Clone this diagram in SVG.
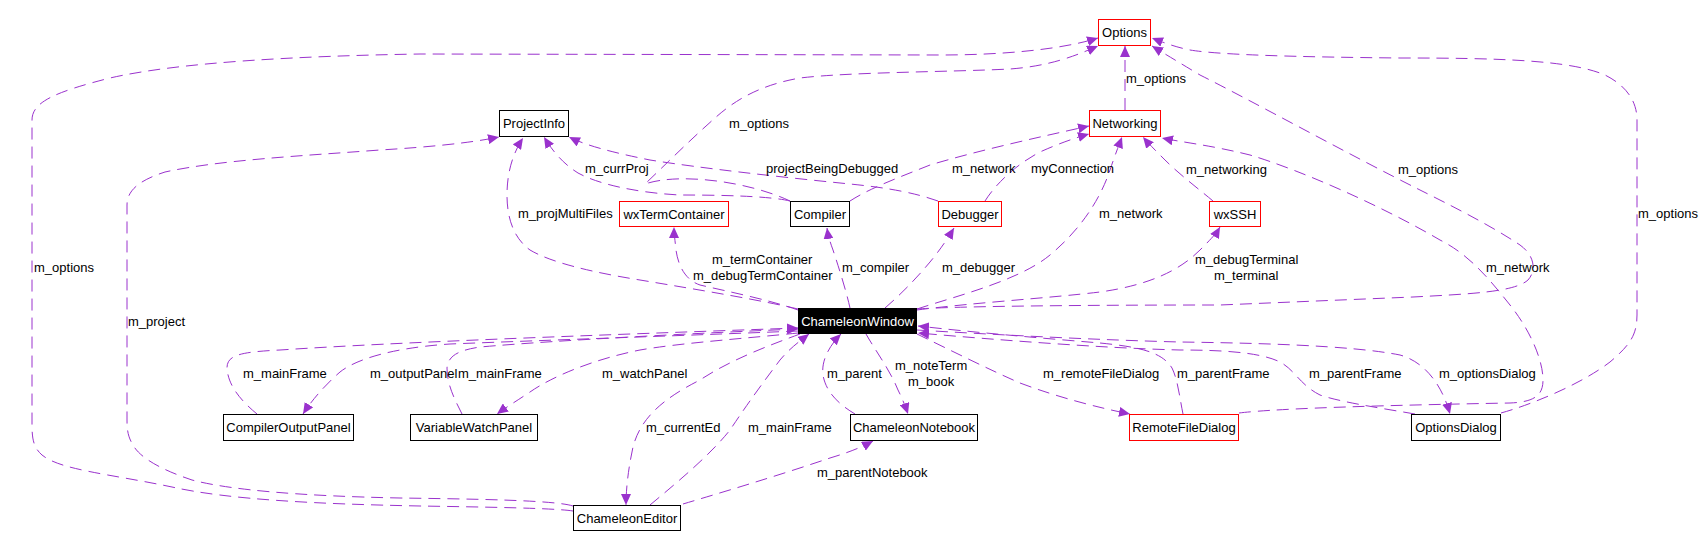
<svg xmlns="http://www.w3.org/2000/svg" width="1701" height="549" viewBox="0 0 1701 549">
<style>
.nb{fill:#fff;stroke:#000;stroke-width:1}
.nr{fill:#fff;stroke:#f00;stroke-width:1}
.nk{fill:#000;stroke:#000;stroke-width:1}
.e{fill:none;stroke:#9a32cd;stroke-width:1;stroke-dasharray:12,7;marker-end:url(#arr)}
.en{fill:none;stroke:#9a32cd;stroke-width:1;stroke-dasharray:12,7}
text{font-family:"Liberation Sans",Arial,Helvetica,sans-serif;font-size:13px;fill:#000}
.c{text-anchor:middle}
.w{fill:#fff}
</style>
<defs>
<marker id="arr" viewBox="0 0 11 10" refX="11" refY="5" markerWidth="11" markerHeight="10" markerUnits="userSpaceOnUse" orient="auto">
<path d="M0,0 L11,5 L0,10 z" fill="#9a32cd"/>
</marker>
</defs>
<rect width="1701" height="549" fill="#fff"/>
<g id="connectors">
<!-- ChameleonEditor -> Options (m_options, far left) -->
<path class="e" d="M573,511 C555,508 480,507 420,506 C320,504 230,500 172,487 C110,474 60,470 42,455 C34,448 32,440 32,425 L32,120 C32,102 55,92 110,78 C180,62 300,56 420,54 L940,55 C1000,55 1060,50 1098,38"/>
<!-- ChameleonEditor -> ProjectInfo (m_project) -->
<path class="e" d="M573,506 C555,500 470,499 400,498 C300,496 230,490 192,480 C162,470 140,458 133,445 C128,437 127,430 127,420 L127,205 C127,190 140,180 165,172 C220,160 300,156 380,150 C430,147 470,143 499,137"/>
<!-- Compiler -> Options (m_options) -->
<path class="e" d="M790,201 C750,182 680,172 645,184 C665,165 690,140 715,118 C735,100 760,85 800,78 C850,72 950,72 1010,69 C1050,66 1075,56 1098,46"/>
<!-- Networking -> Options -->
<path class="e" d="M1125,110 L1125,46"/>
<!-- ChameleonWindow -> Options (m_options diag) -->
<path class="e" d="M917,309 C960,306 1100,305 1220,305 L1413,297 C1470,294 1515,292 1528,280 C1537,270 1534,255 1520,245 C1490,225 1450,205 1420,190 C1350,155 1250,100 1200,75 C1180,63 1165,54 1152,46"/>
<!-- OptionsDialog -> Options (m_options far right) -->
<path class="e" d="M1501,413 C1530,405 1580,385 1610,362 C1630,345 1637,335 1637,315 L1637,120 C1637,100 1625,85 1605,75 C1570,60 1500,58 1400,58 C1300,57 1220,55 1190,50 C1175,47 1162,42 1152,38"/>
<!-- RemoteFileDialog -> Networking (m_network) -->
<path class="e" d="M1239,413 C1280,408 1400,405 1510,403 C1535,402 1543,395 1543,380 C1543,360 1530,330 1510,305 C1490,280 1470,255 1440,240 C1380,205 1300,170 1250,155 C1210,145 1180,142 1162,138"/>
<!-- Compiler -> Networking -->
<path class="e" d="M850,201 C870,188 900,177 930,165 C980,150 1040,137 1089,126"/>
<!-- Debugger -> Networking -->
<path class="e" d="M985,201 C995,185 1015,165 1040,152 C1060,143 1075,138 1089,134"/>
<!-- ChameleonWindow -> Networking -->
<path class="e" d="M917,309 C960,295 1020,280 1050,255 C1080,230 1100,200 1110,170 C1115,155 1119,145 1122,137"/>
<!-- wxSSH -> Networking -->
<path class="e" d="M1213,201 C1200,190 1180,175 1165,160 C1155,150 1148,143 1143,137"/>
<!-- ChameleonWindow -> ProjectInfo (m_projMultiFiles) -->
<path class="e" d="M798,309 C760,300 700,290 640,280 C590,272 550,262 530,250 C512,237 507,215 507,195 C507,172 513,153 523,138"/>
<!-- Compiler -> ProjectInfo (m_currProj) -->
<path class="e" d="M790,201 C770,196 720,195 680,195 C640,193 600,185 578,173 C562,163 552,150 544,137"/>
<!-- Debugger -> ProjectInfo (projectBeingDebugged) -->
<path class="e" d="M938,201 C915,193 890,188 850,184 C780,177 700,168 650,160 C610,152 585,145 569,137"/>
<!-- ChameleonWindow -> wxTermContainer -->
<path class="e" d="M798,310 C770,300 730,292 700,285 C685,280 678,265 676,250 C675,240 674,234 674,227"/>
<!-- ChameleonWindow -> Compiler -->
<path class="e" d="M850,308 C846,290 838,265 833,250 C830,242 828,235 827,228"/>
<!-- ChameleonWindow -> Debugger -->
<path class="e" d="M885,308 C900,295 915,280 930,262 C940,250 948,238 954,228"/>
<!-- ChameleonWindow -> wxSSH -->
<path class="e" d="M917,310 C970,303 1050,298 1100,292 C1150,285 1180,270 1200,250 C1210,240 1216,234 1220,227"/>
<!-- CompilerOutputPanel -> ChameleonWindow (m_mainFrame) -->
<path class="e" d="M257,414 C240,400 228,385 227,368 C227,355 240,352 280,350 C400,342 600,335 798,328"/>
<!-- ChameleonWindow -> CompilerOutputPanel (m_outputPanel) -->
<path class="e" d="M798,331 C700,335 550,340 450,344 C390,348 355,360 340,372 C325,385 312,400 303,414"/>
<!-- VariableWatchPanel -> ChameleonWindow (m_mainFrame) -->
<path class="e" d="M462,414 C455,400 447,385 447,368 C448,355 460,350 480,347 C560,340 700,333 798,329"/>
<!-- ChameleonWindow -> VariableWatchPanel (m_watchPanel) -->
<path class="e" d="M798,333 C750,338 680,343 640,350 C590,360 550,378 530,392 C515,402 505,408 497,414"/>
<!-- ChameleonWindow -> ChameleonEditor (m_currentEd) -->
<path class="e" d="M800,334 C770,345 730,360 700,380 C660,400 640,420 633,447 C628,470 626,490 626,505"/>
<!-- ChameleonEditor -> ChameleonWindow (m_mainFrame) -->
<path class="e" d="M650,505 C680,480 710,455 730,430 C750,400 765,380 780,360 C790,348 800,341 809,334"/>
<!-- ChameleonNotebook -> ChameleonWindow (m_parent) -->
<path class="e" d="M855,414 C840,405 826,393 823,375 C821,360 830,345 841,334"/>
<!-- ChameleonWindow -> ChameleonNotebook (m_noteTerm, m_book) -->
<path class="e" d="M866,334 C875,350 890,370 898,390 C903,400 906,408 908,414"/>
<!-- ChameleonEditor -> ChameleonNotebook (m_parentNotebook) -->
<path class="e" d="M683,504 C720,493 780,475 830,458 C850,452 862,447 873,441"/>
<!-- ChameleonWindow -> RemoteFileDialog -->
<path class="e" d="M917,334 C950,350 990,370 1020,383 C1060,398 1100,408 1130,414"/>
<!-- RemoteFileDialog -> ChameleonWindow (m_parentFrame) -->
<path class="e" d="M1183,414 C1180,400 1178,380 1172,368 C1162,352 1140,347 1100,343 C1040,338 970,332 918,326"/>
<!-- ChameleonWindow -> OptionsDialog (m_optionsDialog) -->
<path class="e" d="M917,330 C1000,335 1100,340 1180,342 C1250,343 1350,345 1400,355 C1425,362 1442,385 1450,414"/>
<!-- OptionsDialog -> ChameleonWindow (m_parentFrame) -->
<path class="e" d="M1415,414 C1380,408 1340,402 1320,395 C1300,385 1295,370 1280,362 C1260,352 1220,350 1180,350 C1100,348 1000,340 918,333"/>
</g>
<g id="edge-labels">
<text x="34" y="272">m_options</text>
<text x="128" y="326">m_project</text>
<text x="518" y="218">m_projMultiFiles</text>
<text x="585" y="173">m_currProj</text>
<text x="729" y="128">m_options</text>
<text x="766" y="173">projectBeingDebugged</text>
<text x="952" y="173">m_network</text>
<text x="1031" y="173">myConnection</text>
<text x="1126" y="83">m_options</text>
<text x="1186" y="174">m_networking</text>
<text x="1398" y="174">m_options</text>
<text x="1638" y="218">m_options</text>
<text x="1099" y="218">m_network</text>
<text x="712" y="264">m_termContainer</text>
<text x="693" y="280">m_debugTermContainer</text>
<text x="842" y="272">m_compiler</text>
<text x="942" y="272">m_debugger</text>
<text x="1195" y="264">m_debugTerminal</text>
<text x="1214" y="280">m_terminal</text>
<text x="1486" y="272">m_network</text>
<text x="243" y="378">m_mainFrame</text>
<text x="370" y="378">m_outputPanel</text>
<text x="458" y="378">m_mainFrame</text>
<text x="602" y="378">m_watchPanel</text>
<text x="827" y="378">m_parent</text>
<text x="895" y="370">m_noteTerm</text>
<text x="908" y="386">m_book</text>
<text x="1043" y="378">m_remoteFileDialog</text>
<text x="1177" y="378">m_parentFrame</text>
<text x="1309" y="378">m_parentFrame</text>
<text x="1439" y="378">m_optionsDialog</text>
<text x="646" y="432">m_currentEd</text>
<text x="748" y="432">m_mainFrame</text>
<text x="817" y="477">m_parentNotebook</text>
</g>
<g id="Options"><rect class="nr" x="1098.5" y="19.5" width="52" height="26"/><text class="c" x="1124.5" y="37">Options</text></g>
<g id="ProjectInfo"><rect class="nb" x="499.5" y="110.5" width="69" height="26"/><text class="c" x="534" y="128">ProjectInfo</text></g>
<g id="Networking"><rect class="nr" x="1089.5" y="110.5" width="71" height="26"/><text class="c" x="1125" y="128">Networking</text></g>
<g id="wxTermContainer"><rect class="nr" x="619.5" y="201.5" width="109" height="25"/><text class="c" x="674" y="219">wxTermContainer</text></g>
<g id="Compiler"><rect class="nb" x="790.5" y="201.5" width="59" height="25"/><text class="c" x="820" y="219">Compiler</text></g>
<g id="Debugger"><rect class="nr" x="938.5" y="201.5" width="63" height="25"/><text class="c" x="970" y="219">Debugger</text></g>
<g id="wxSSH"><rect class="nr" x="1209.5" y="201.5" width="51" height="25"/><text class="c" x="1235" y="219">wxSSH</text></g>
<g id="ChameleonWindow"><rect class="nk" x="798.5" y="308.5" width="118" height="25"/><text class="c w" x="857.5" y="325.5">ChameleonWindow</text></g>
<g id="CompilerOutputPanel"><rect class="nb" x="223.5" y="414.5" width="130" height="26"/><text class="c" x="288.5" y="432">CompilerOutputPanel</text></g>
<g id="VariableWatchPanel"><rect class="nb" x="410.5" y="414.5" width="127" height="26"/><text class="c" x="474" y="432">VariableWatchPanel</text></g>
<g id="ChameleonNotebook"><rect class="nb" x="850.5" y="414.5" width="127" height="26"/><text class="c" x="914" y="432">ChameleonNotebook</text></g>
<g id="RemoteFileDialog"><rect class="nr" x="1129.5" y="414.5" width="109" height="26"/><text class="c" x="1184" y="432">RemoteFileDialog</text></g>
<g id="OptionsDialog"><rect class="nb" x="1411.5" y="414.5" width="89" height="26"/><text class="c" x="1456" y="432">OptionsDialog</text></g>
<g id="ChameleonEditor"><rect class="nb" x="573.5" y="505.5" width="107" height="25"/><text class="c" x="627" y="522.5">ChameleonEditor</text></g>
</svg>
